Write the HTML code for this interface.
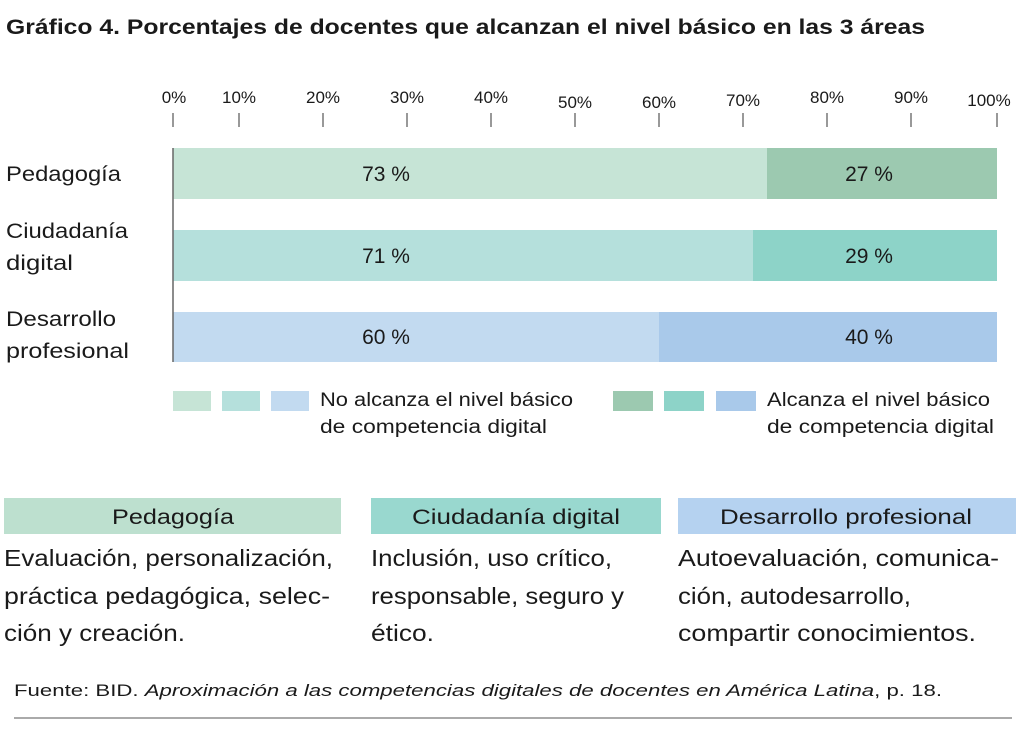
<!DOCTYPE html>
<html><head><meta charset="utf-8"><style>
body{margin:0;background:#fff;width:1024px;height:740px;overflow:hidden}
svg{display:block}
text{font-family:"Liberation Sans","DejaVu Sans",sans-serif;fill:#1a1a1a}
</style></head><body>
<svg width="1024" height="740" xmlns="http://www.w3.org/2000/svg">
<text x="6" y="34" font-size="21" font-weight="bold" textLength="919" lengthAdjust="spacingAndGlyphs">Gráfico 4. Porcentajes de docentes que alcanzan el nivel básico en las 3 áreas</text>
<g font-size="17" text-anchor="middle">
<text x="174" y="103">0%</text><text x="239" y="103">10%</text><text x="323" y="103">20%</text>
<text x="407" y="103">30%</text><text x="491" y="103">40%</text><text x="575" y="108">50%</text>
<text x="659" y="108">60%</text><text x="743" y="106">70%</text><text x="827" y="103">80%</text>
<text x="911" y="103">90%</text><text x="989" y="106">100%</text>
</g>
<g stroke="#777" stroke-width="1.5">
<line x1="173" y1="113" x2="173" y2="127"/><line x1="239" y1="113" x2="239" y2="127"/>
<line x1="323" y1="113" x2="323" y2="127"/><line x1="407" y1="113" x2="407" y2="127"/>
<line x1="491" y1="113" x2="491" y2="127"/><line x1="575" y1="113" x2="575" y2="127"/>
<line x1="659" y1="113" x2="659" y2="127"/><line x1="743" y1="113" x2="743" y2="127"/>
<line x1="827" y1="113" x2="827" y2="127"/><line x1="911" y1="113" x2="911" y2="127"/>
<line x1="997" y1="113" x2="997" y2="127"/>
</g>
<rect x="173" y="148" width="594" height="51" fill="#c6e4d6"/>
<rect x="767" y="148" width="230" height="51" fill="#9cc9b0"/>
<rect x="173" y="230" width="580" height="51" fill="#b5e0dc"/>
<rect x="753" y="230" width="244" height="51" fill="#8dd3c8"/>
<rect x="173" y="312" width="486" height="50" fill="#c2daf0"/>
<rect x="659" y="312" width="338" height="50" fill="#a9c9ea"/>
<line x1="173" y1="148" x2="173" y2="362" stroke="#666" stroke-width="1.5"/>
<g font-size="21" text-anchor="middle">
<text x="386" y="181">73 %</text><text x="869" y="181">27 %</text>
<text x="386" y="263">71 %</text><text x="869" y="263">29 %</text>
<text x="386" y="344">60 %</text><text x="869" y="344">40 %</text>
</g>
<g font-size="21" lengthAdjust="spacingAndGlyphs">
<text x="6" y="181" textLength="115" lengthAdjust="spacingAndGlyphs">Pedagogía</text>
<text x="6" y="238" textLength="122" lengthAdjust="spacingAndGlyphs">Ciudadanía</text><text x="6" y="270" textLength="67" lengthAdjust="spacingAndGlyphs">digital</text>
<text x="6" y="326" textLength="110" lengthAdjust="spacingAndGlyphs">Desarrollo</text><text x="6" y="358" textLength="123" lengthAdjust="spacingAndGlyphs">profesional</text>
</g>
<rect x="173" y="391" width="38" height="20" fill="#c6e4d6"/>
<rect x="222" y="391" width="38" height="20" fill="#b5e0dc"/>
<rect x="271" y="391" width="38" height="20" fill="#c2daf0"/>
<rect x="613" y="391" width="40" height="20" fill="#9cc9b0"/>
<rect x="664" y="391" width="40" height="20" fill="#8dd3c8"/>
<rect x="716" y="391" width="40" height="20" fill="#a9c9ea"/>
<g font-size="19">
<text x="320" y="406" textLength="253" lengthAdjust="spacingAndGlyphs">No alcanza el nivel básico</text><text x="320" y="433" textLength="227" lengthAdjust="spacingAndGlyphs">de competencia digital</text>
<text x="767" y="406" textLength="223" lengthAdjust="spacingAndGlyphs">Alcanza el nivel básico</text><text x="767" y="433" textLength="227" lengthAdjust="spacingAndGlyphs">de competencia digital</text>
</g>
<rect x="4" y="498" width="337" height="36" fill="#bde0cf"/>
<rect x="371" y="498" width="290" height="36" fill="#99d8cf"/>
<rect x="678" y="498" width="338" height="36" fill="#b5d2f0"/>
<g font-size="21">
<text x="112" y="524" textLength="122" lengthAdjust="spacingAndGlyphs">Pedagogía</text><text x="412" y="524" textLength="208" lengthAdjust="spacingAndGlyphs">Ciudadanía digital</text><text x="720" y="524" textLength="252" lengthAdjust="spacingAndGlyphs">Desarrollo profesional</text>
</g>
<g font-size="23">
<text x="4" y="566" textLength="329" lengthAdjust="spacingAndGlyphs">Evaluación, personalización,</text>
<text x="4" y="604" textLength="326" lengthAdjust="spacingAndGlyphs">práctica pedagógica, selec-</text>
<text x="4" y="641" textLength="181" lengthAdjust="spacingAndGlyphs">ción y creación.</text>
<text x="371" y="566" textLength="241" lengthAdjust="spacingAndGlyphs">Inclusión, uso crítico,</text>
<text x="371" y="604" textLength="253" lengthAdjust="spacingAndGlyphs">responsable, seguro y</text>
<text x="371" y="641" textLength="63" lengthAdjust="spacingAndGlyphs">ético.</text>
<text x="678" y="566" textLength="321" lengthAdjust="spacingAndGlyphs">Autoevaluación, comunica-</text>
<text x="678" y="604" textLength="233" lengthAdjust="spacingAndGlyphs">ción, autodesarrollo,</text>
<text x="678" y="641" textLength="298" lengthAdjust="spacingAndGlyphs">compartir conocimientos.</text>
</g>
<text x="14" y="696" font-size="17" textLength="928" lengthAdjust="spacingAndGlyphs">Fuente: BID. <tspan font-style="italic">Aproximación a las competencias digitales de docentes en América Latina</tspan>, p. 18.</text>
<line x1="14" y1="718" x2="1012" y2="718" stroke="#aaa" stroke-width="2"/>
</svg>
</body></html>
